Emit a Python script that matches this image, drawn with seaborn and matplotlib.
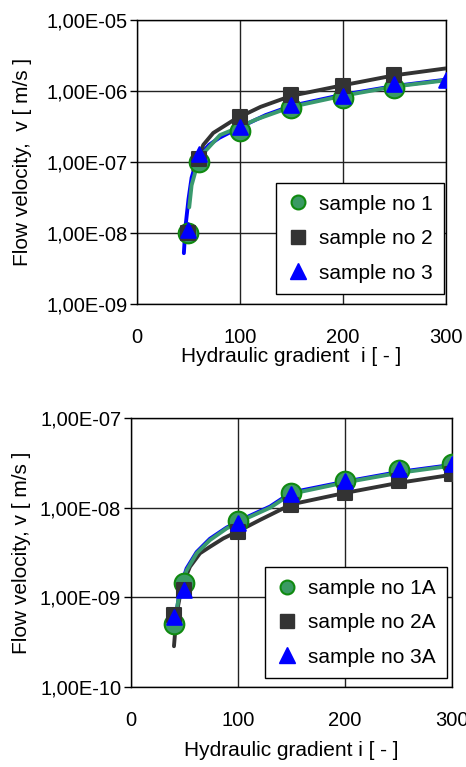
import matplotlib
matplotlib.use("Agg")
import matplotlib.pyplot as plt
import seaborn as sns
from matplotlib.ticker import FuncFormatter, NullLocator
from matplotlib.lines import Line2D

# --- top chart: measured points ---
i_top = [50, 60, 100, 150, 200, 250, 300]
v_s1 = [1.0e-8, 1.0e-7, 2.75e-7, 5.8e-7, 7.9e-7, 1.12e-6, None]
v_s2 = [1.0e-8, 1.1e-7, 4.35e-7, 8.7e-7, 1.2e-6, 1.7e-6, None]
v_s3 = [1.1e-8, 1.3e-7, 3.1e-7, 6.3e-7, 8.5e-7, 1.25e-6, 1.42e-6]

# top chart: trend curves
c1_i = [50.7, 53, 58, 64.4, 80.6, 96.8, 116, 150, 200, 250, 300]
c1_v = [2.3e-8, 4.7e-8, 8.6e-8, 1.33e-7, 2.4e-7, 3.0e-7, 4.0e-7, 6.0e-7, 8.6e-7, 1.16e-6, 1.42e-6]
c2_i = [54.7, 64.4, 74, 92, 100, 120, 150, 200, 250, 300]
c2_v = [7.7e-8, 1.75e-7, 2.57e-7, 3.76e-7, 4.35e-7, 6.0e-7, 8.6e-7, 1.21e-6, 1.67e-6, 2.09e-6]
c3_i = [45.5, 47, 50, 53, 57, 62, 70, 80, 100, 125, 150, 200, 250, 300]
c3_v = [5.2e-9, 1.2e-8, 3.0e-8, 6.0e-8, 9.5e-8, 1.3e-7, 1.75e-7, 2.2e-7, 3.1e-7, 4.6e-7, 6.2e-7, 8.9e-7, 1.18e-6, 1.45e-6]

# --- bottom chart: measured points ---
i_bot = [40, 50, 100, 150, 200, 250, 300]
v_s1a = [5.0e-10, 1.43e-9, 7.1e-9, 1.47e-8, 2.0e-8, 2.6e-8, 3.1e-8]
v_s2a = [6.3e-10, 1.2e-9, 5.3e-9, 1.08e-8, 1.47e-8, 2.0e-8, 2.4e-8]
v_s3a = [6.0e-10, 1.2e-9, 6.8e-9, 1.43e-8, 2.0e-8, 2.7e-8, 3.1e-8]

# bottom chart: trend curves
d1_i = [42.7, 45.8, 52, 61.4, 73.8, 89.4, 108, 130, 150, 200, 250, 300]
d1_v = [7.2e-10, 1.2e-9, 2.0e-9, 3.1e-9, 4.35e-9, 5.87e-9, 7.6e-9, 1.0e-8, 1.43e-8, 1.91e-8, 2.44e-8, 2.94e-8]
d2_i = [40.2, 42.7, 47.4, 55.1, 64.5, 73.8, 86.3, 102, 120.6, 150, 200, 250, 300]
d2_v = [2.85e-10, 6.6e-10, 1.31e-9, 2.19e-9, 3.1e-9, 3.66e-9, 4.54e-9, 5.6e-9, 7.3e-9, 1.09e-8, 1.46e-8, 1.89e-8, 2.33e-8]
d3_i = [42, 45.8, 52, 61.4, 73.8, 89.4, 108, 130, 150, 200, 250, 300]
d3_v = [6.0e-10, 1.25e-9, 2.1e-9, 3.2e-9, 4.5e-9, 6.0e-9, 7.8e-9, 1.03e-8, 1.48e-8, 1.95e-8, 2.5e-8, 3.0e-8]

sns.set_style("white")
plt.rcParams['font.family'] = ['Liberation Sans', 'DejaVu Sans']
plt.rcParams['text.color'] = 'black'
plt.rcParams['axes.labelcolor'] = 'black'
plt.rcParams['xtick.color'] = 'black'
plt.rcParams['ytick.color'] = 'black'

GREEN_LINE = '#3a9a6e'
GREEN_FILL = '#3a9a63'
GREEN_EDGE = '#108a10'
DARK = '#333333'
BLUE = '#0000ff'


def sci_comma(v, pos):
    return f"{v:.2E}".replace('.', ',')


def draw(ax, pts, curves, labels, ylim, xlabel, ylabel, leg_anchor, xpad):
    i_vals, s1, s2, s3 = pts
    # curves first so markers sit on top of them
    for (ci, cv), col in zip(curves, [BLUE, DARK, GREEN_LINE]):
        sns.lineplot(x=ci, y=cv, ax=ax, color=col, lw=2.8, sort=False,
                     estimator=None, legend=False, zorder=3)
    pairs = [(s1, 'o', GREEN_FILL, GREEN_EDGE, 200),
             (s2, 's', DARK, DARK, 100),
             (s3, '^', BLUE, BLUE, 110)]
    for vals, m, fc, ec, sz in pairs:
        xs = [x for x, v in zip(i_vals, vals) if v is not None]
        ys = [v for v in vals if v is not None]
        sns.scatterplot(x=xs, y=ys, ax=ax, marker=m, s=sz, color=fc,
                        edgecolor=ec, linewidth=1.5, zorder=4, legend=False)

    ax.set_yscale('log')
    ax.set_ylim(*ylim)
    ax.set_xlim(0, 300)
    ax.set_xticks([0, 100, 200, 300])
    ax.yaxis.set_major_formatter(FuncFormatter(sci_comma))
    ax.yaxis.set_minor_locator(NullLocator())
    ax.grid(True, which='major', color='#222222', lw=1.0)
    for sp in ax.spines.values():
        sp.set_color('black')
        sp.set_linewidth(1.0)
    ax.tick_params(axis='y', which='major', left=True, length=5, width=1.0,
                   direction='out', pad=2, labelsize=14.5, color='black')
    ax.tick_params(axis='x', which='major', bottom=False, pad=xpad,
                   labelsize=14.5)
    ax.set_xlabel(xlabel, fontsize=15)
    ax.set_ylabel(ylabel, fontsize=15)

    handles = [
        Line2D([], [], ls='none', marker='o', ms=10, mfc=GREEN_FILL,
               mec=GREEN_EDGE, mew=1.5),
        Line2D([], [], ls='none', marker='s', ms=9.5, mfc=DARK, mec=DARK),
        Line2D([], [], ls='none', marker='^', ms=11, mfc=BLUE, mec=BLUE),
    ]
    leg = ax.legend(handles, labels, loc='lower right',
                    bbox_to_anchor=leg_anchor, fontsize=15, frameon=True,
                    fancybox=False, framealpha=1, edgecolor='black',
                    handlelength=1.0, handletextpad=0.5, borderpad=0.55,
                    labelspacing=0.74, borderaxespad=0)
    leg.get_frame().set_linewidth(1.0)
    leg.set_zorder(10)


fig = plt.figure(figsize=(4.66, 7.67), dpi=100)
ax1 = fig.add_axes([0.294, 0.6037, 0.663, 0.370])
ax2 = fig.add_axes([0.281, 0.1043, 0.689, 0.3507])

draw(ax1, (i_top, v_s1, v_s2, v_s3),
     [(c3_i, c3_v), (c2_i, c2_v), (c1_i, c1_v)],
     ['sample no 1', 'sample no 2', 'sample no 3'],
     (1e-9, 1e-5), 'Hydraulic gradient  i [ - ]', 'Flow velocity,  v [ m/s ]',
     (0.994, 0.035), 14)
ax1.xaxis.labelpad = 0
ax1.yaxis.set_label_coords(-0.34, 0.5)

draw(ax2, (i_bot, v_s1a, v_s2a, v_s3a),
     [(d3_i, d3_v), (d2_i, d2_v), (d1_i, d1_v)],
     ['sample no 1A', 'sample no 2A', 'sample no 3A'],
     (1e-10, 1e-7), 'Hydraulic gradient i [ - ]', 'Flow velocity, v [ m/s ]',
     (0.984, 0.033), 14)
ax2.xaxis.labelpad = 8
ax2.yaxis.set_label_coords(-0.31, 0.5)

fig.savefig('out.png', dpi=100)
